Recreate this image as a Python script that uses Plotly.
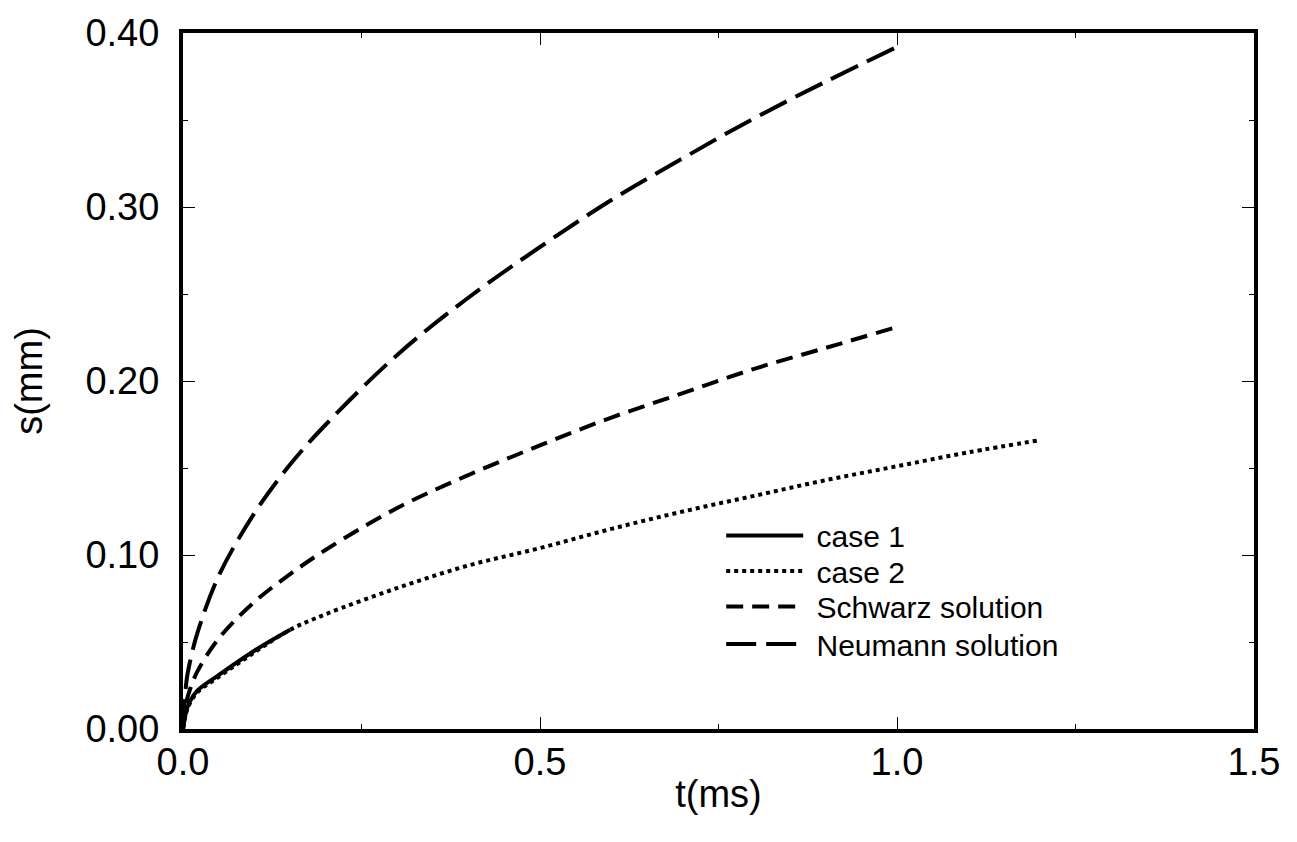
import plotly.graph_objects as go

# ---- data ----
t_case1 = [0, 0.005, 0.01, 0.02, 0.05, 0.10, 0.15]
s_case1 = [0, 0.011, 0.016, 0.022, 0.031, 0.045, 0.057]

t_case2 = [0, 0.005, 0.01, 0.02, 0.05, 0.10, 0.15, 0.2, 0.3, 0.4, 0.5, 0.6, 0.7, 0.8, 0.9, 1.0, 1.1, 1.2]
s_case2 = [0, 0.010, 0.015, 0.021, 0.030, 0.044, 0.057, 0.066, 0.081, 0.094, 0.104, 0.115, 0.125, 0.134, 0.143, 0.151, 0.159, 0.166]

t_sol = [0, 0.005, 0.01, 0.02, 0.05, 0.1, 0.15, 0.2, 0.3, 0.4, 0.5, 0.6, 0.7, 0.8, 0.9, 1.0]
s_schwarz = [0, 0.016, 0.023, 0.033, 0.052, 0.073, 0.089, 0.103, 0.127, 0.146, 0.163, 0.179, 0.193, 0.207, 0.219, 0.231]
s_neumann = [0, 0.028, 0.039, 0.055, 0.088, 0.124, 0.152, 0.175, 0.215, 0.248, 0.277, 0.304, 0.328, 0.351, 0.372, 0.392]

series_names = ["case 1", "case 2", "Schwarz solution", "Neumann solution"]

x_ticks = [0.0, 0.5, 1.0, 1.5]
x_ticklabels = ["0.0", "0.5", "1.0", "1.5"]
y_ticks = [0.0, 0.1, 0.2, 0.3, 0.4]
y_ticklabels = ["0.00", "0.10", "0.20", "0.30", "0.40"]

FONT = "Liberation Sans, Arial, Helvetica, sans-serif"
NB = "\u00a0"

fig = go.Figure()
fig.add_trace(go.Scatter(x=t_case1, y=s_case1, mode="lines", name=NB + series_names[0],
                         legend="legend",
                         line=dict(color="black", width=4, shape="spline")))
fig.add_trace(go.Scatter(x=t_case2, y=s_case2, mode="lines", name=NB + series_names[1],
                         legend="legend2",
                         line=dict(color="black", width=4, dash="4px,4px", shape="spline")))
fig.add_trace(go.Scatter(x=t_sol, y=s_schwarz, mode="lines", name=NB + series_names[2],
                         legend="legend3",
                         line=dict(color="black", width=4, dash="17px,9px", shape="spline")))
fig.add_trace(go.Scatter(x=t_sol, y=s_neumann, mode="lines", name=NB + series_names[3],
                         legend="legend4",
                         line=dict(color="black", width=4, dash="30px,10px", shape="spline")))

axis_common = dict(
    showline=True, linecolor="black", linewidth=4, mirror="ticks",
    ticks="inside", ticklen=12, tickwidth=1, tickcolor="black",
    showgrid=False, zeroline=False,
    tickfont=dict(family=FONT, size=38, color="black"),
    title_font=dict(family=FONT, size=38, color="black"),
)

fig.update_xaxes(range=[0, 1.5], tickvals=x_ticks, ticktext=x_ticklabels,
                 minor=dict(ticks="inside", ticklen=5, tickwidth=1, tickcolor="black", dtick=0.25),
                 title_text="t(ms)", title_standoff=0, ticklabelstandoff=-4, **axis_common)
fig.update_yaxes(range=[0, 0.4], tickvals=y_ticks, ticktext=y_ticklabels,
                 minor=dict(ticks="inside", ticklen=5, tickwidth=1, tickcolor="black", dtick=0.05),
                 title_text="s(mm)", title_standoff=32, ticklabelstandoff=12, **axis_common)

legend_rows_y = [0.278, 0.227, 0.176, 0.122]
legend_style = dict(x=0.5025, xanchor="left", yanchor="middle",
                    bgcolor="rgba(0,0,0,0)", itemwidth=77,
                    font=dict(family=FONT, size=30, color="black"))

fig.update_layout(
    width=1297, height=842,
    margin=dict(l=183, r=43, t=27, b=113),
    plot_bgcolor="white", paper_bgcolor="white",
    font=dict(family=FONT, color="black"),
    legend=dict(y=legend_rows_y[0], **legend_style),
    legend2=dict(y=legend_rows_y[1], **legend_style),
    legend3=dict(y=legend_rows_y[2], **legend_style),
    legend4=dict(y=legend_rows_y[3], **legend_style),
    showlegend=True,
)

fig.write_html("out.html")
